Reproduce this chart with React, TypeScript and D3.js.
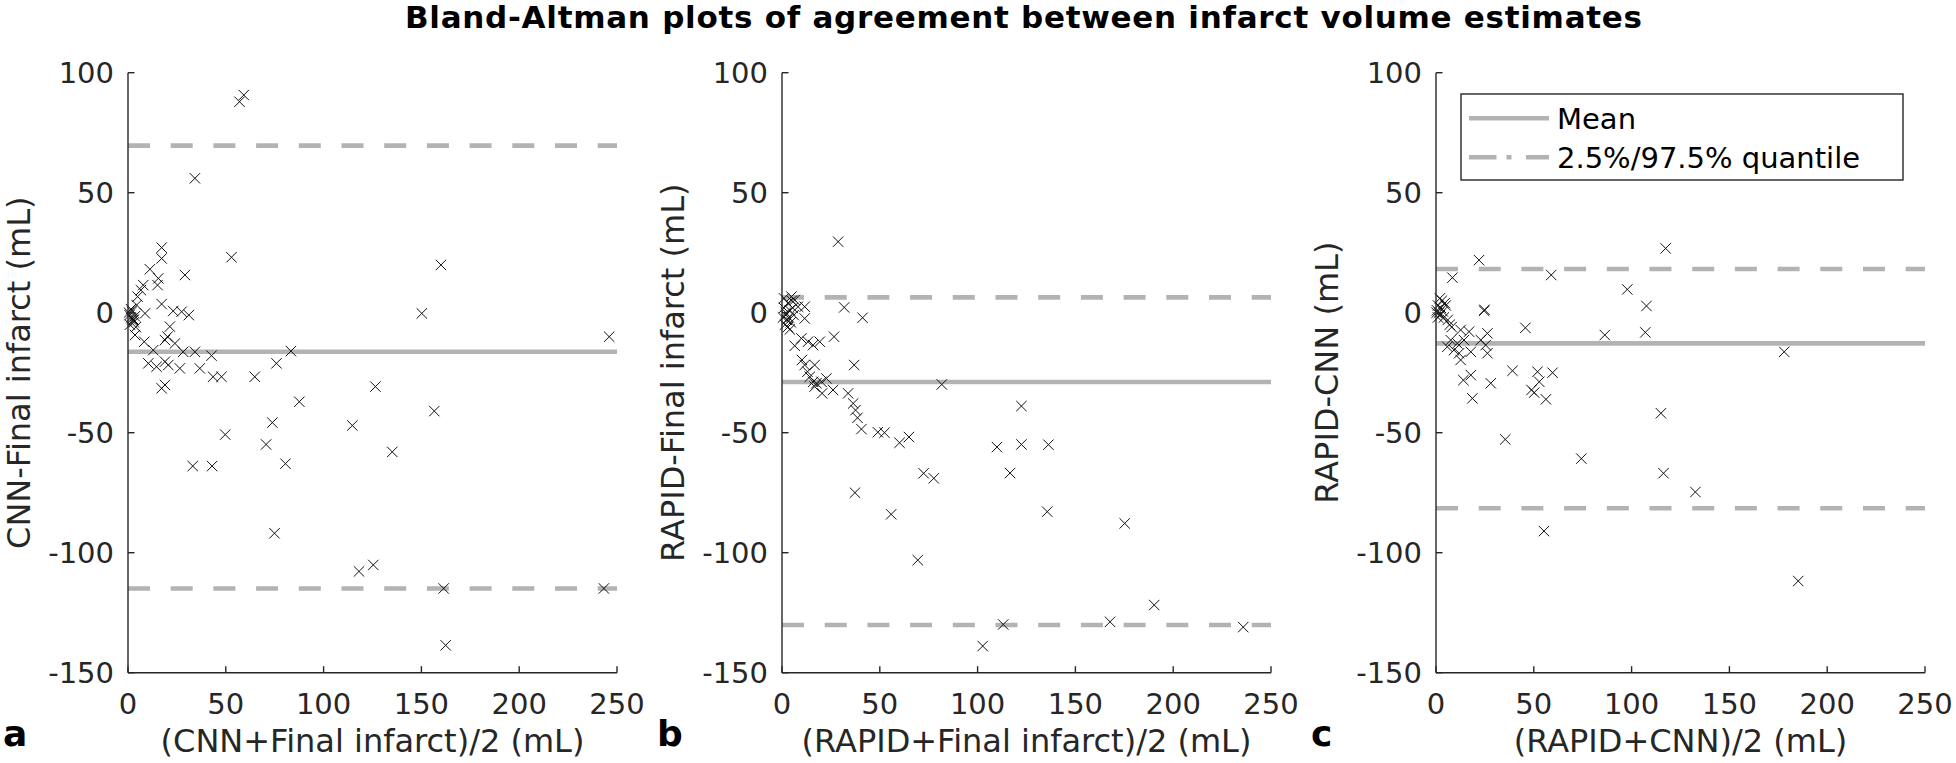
import { scaleLinear } from "d3";

const WIDTH = 1956;
const HEIGHT = 763;
const FONT = "'DejaVu Sans', sans-serif";
const AXIS = "#262626";
const REF = "#b3b3b3";

const xTicks = [0, 50, 100, 150, 200, 250];
const yTicks = [100, 50, 0, -50, -100, -150];

const panelLetters = ["a", "b", "c"];
const xLabels = ["(CNN+Final infarct)/2 (mL)", "(RAPID+Final infarct)/2 (mL)", "(RAPID+CNN)/2 (mL)"];
const yLabels = ["CNN-Final infarct (mL)", "RAPID-Final infarct (mL)", "RAPID-CNN (mL)"];

// mean difference and 2.5% / 97.5% quantiles per panel
const meanDiff = [-16.3, -28.9, -12.8];
const upperQ = [69.6, 6.4, 18.2];
const lowerQ = [-114.9, -130.1, -81.5];

// [mean of the two, difference]
const cnnFinal: [number, number][] = [
  [0.8, -1], [1.5, -2], [2, 0.5], [2.5, -3], [3, -4], [1, -5], [3.5, -1.5], [2, -2.5], [4, -6], [1.5, 1.5], [3, -3], [0.5, 0],
  [59.2, 90.7], [57, 87.9], [34.2, 56], [52.9, 23.1], [160, 19.9], [150.2, -0.3], [246, -10],
  [17.2, 27.1], [17.2, 22.6], [11.2, 18.1], [15.5, 14.3], [15.1, 11.5], [29.1, 15.7], [7.8, 11.5], [6.6, 9.4],
  [4.9, 6.7], [4.4, 3.2], [17.2, 3.6], [23.1, 0.7], [27.4, 0.4], [31.1, -1], [8.7, -0.3], [21.4, -5.8],
  [20.2, -10], [18.9, -11.4], [24, -12.8], [8.3, -12.1], [3.6, -9.3], [12.9, -15.6], [28.2, -16.3], [34.2, -16.3],
  [42.7, -17.9], [10.4, -21.1], [14.6, -22.5], [18.9, -20.4], [20.6, -21.8], [26.5, -23.2], [36.7, -23.2],
  [43.5, -26.7], [47.8, -26.7], [64.8, -26.7], [75.9, -21.1], [83.3, -16], [17.2, -31.5], [18.9, -30.1],
  [126.5, -30.8], [87.6, -37.1], [156.6, -41], [114.7, -47], [73.8, -45.8], [49.7, -50.8], [70.6, -54.9],
  [135.1, -58], [33.1, -63.9], [43, -63.9], [80.5, -62.9], [74.9, -91.9], [118.1, -107.8], [125.4, -105.1],
  [161.4, -114.9], [243.3, -114.9], [162.4, -138.6],
];

const rapidFinal: [number, number][] = [
  [1, 2], [2, -1], [3, 4], [2.5, -3], [4, 1], [1.5, -5], [3.5, -2], [5, 5], [4.5, -4], [2, 0], [6, -1], [3, -6],
  [1, 6], [5.5, 2], [0.5, -2], [4, -7],
  [4.8, 6.7], [6.5, 5.3], [8.2, 2.5], [11.6, 2.5], [31.8, 2.2], [41.2, -2.1], [11.6, -2.4], [9.9, -10.7],
  [6.5, -13.8], [13.3, -12.1], [15.9, -13.5], [19.3, -12.1], [26.6, -10], [10.2, -19.7], [11.6, -21.8],
  [16.7, -21.8], [36.9, -21.8], [13, -24.6], [14.2, -26.7], [15.9, -28.8], [17.6, -29.4], [20.2, -28.8],
  [22.7, -27.4], [16.7, -30.8], [20.5, -33.6], [26.1, -32.2], [33.8, -33.6], [36.4, -37.8], [37.6, -40.6],
  [38.6, -43.8], [40.6, -48.5], [49, -49.8], [52.4, -50], [28.7, 29.6], [81.7, -29.9], [122.4, -38.9],
  [60.1, -54.2], [64.9, -51.8], [109.9, -56], [122.4, -54.9], [136.2, -55], [72.4, -66.9], [77.6, -69],
  [116.6, -66.8], [37.3, -75], [55.8, -84], [135.6, -82.9], [175.2, -87.8], [69.4, -103.1], [190.3, -121.8],
  [167.7, -128.8], [113.1, -129.9], [235.8, -131], [102.6, -138.9],
];

const rapidCnn: [number, number][] = [
  [0.5, 1], [1, 3], [2, -1], [1.5, 0], [3, 5], [2.5, 2], [4, -2], [3.5, 0.5], [5, 3], [6, -3], [1, -2],
  [4.5, 4], [7, -5], [2, 6], [8, -6], [0.3, 0],
  [8.4, 14.6], [22, 21.9], [58.9, 15.7], [117.4, 26.8], [97.8, 9.7], [107.6, 2.8], [24.6, 0.8], [24.8, 1.2],
  [45.7, -6.3], [86.3, -9.3], [107, -8.2], [178, -16.3], [12.6, -7.2], [16.9, -7.9], [26.3, -8.6], [7.5, -11.4],
  [10.9, -12.8], [14.3, -11.4], [22.9, -11.4], [25.4, -13.5], [5.8, -14.2], [9.2, -15.6], [11.8, -16.9],
  [17.8, -16.3], [26.3, -16.9], [12.6, -19.7], [39.1, -24.2], [51.9, -24.6], [59.6, -25], [17.8, -26],
  [14, -28.1], [28, -29.4], [52.8, -28.8], [48.8, -32.2], [50.2, -33.3], [56.2, -36.1], [18.6, -35.7],
  [115, -41.9], [35.4, -52.8], [74.3, -60.8], [116.3, -66.9], [132.6, -74.7], [55.2, -91], [185.2, -111.8],
];

const panelData = [cnnFinal, rapidFinal, rapidCnn];

const PLOT_W = 489;
const TOP = 72.7;
const BOTTOM = 672.7;
const panelLeft = [128, 782, 1436];

function Panel({ i }: { i: number }) {
  const x0 = panelLeft[i];
  const xScale = scaleLinear().domain([0, 250]).range([x0, x0 + PLOT_W]);
  const yScale = scaleLinear().domain([-150, 100]).range([BOTTOM, TOP]);
  const s = 5.2;
  const midY = (TOP + BOTTOM) / 2;

  return (
    <g>
      {/* reference lines */}
      <line x1={xScale(0)} x2={xScale(250)} y1={yScale(meanDiff[i])} y2={yScale(meanDiff[i])}
        stroke={REF} strokeWidth={4.6} />
      <line x1={xScale(0)} x2={xScale(250)} y1={yScale(upperQ[i])} y2={yScale(upperQ[i])}
        stroke={REF} strokeWidth={4.6} strokeDasharray="22 20.7" />
      <line x1={xScale(0)} x2={xScale(250)} y1={yScale(lowerQ[i])} y2={yScale(lowerQ[i])}
        stroke={REF} strokeWidth={4.6} strokeDasharray="22 20.7" />

      {/* points */}
      {panelData[i].map(([mx, d], k) => (
        <path key={k}
          d={`M${xScale(mx) - s},${yScale(d) - s}L${xScale(mx) + s},${yScale(d) + s}M${xScale(mx) - s},${yScale(d) + s}L${xScale(mx) + s},${yScale(d) - s}`}
          stroke="#111" strokeWidth={1} fill="none" />
      ))}

      {/* axes */}
      <line x1={x0} x2={x0} y1={TOP} y2={BOTTOM} stroke={AXIS} strokeWidth={1.4} />
      <line x1={x0} x2={x0 + PLOT_W} y1={BOTTOM} y2={BOTTOM} stroke={AXIS} strokeWidth={1.4} />
      {yTicks.map((t) => (
        <g key={t}>
          <line x1={x0} x2={x0 + 6.5} y1={yScale(t)} y2={yScale(t)} stroke={AXIS} strokeWidth={1.4} />
          <text x={x0 - 14} y={yScale(t)} dy="0.36em" textAnchor="end" fontSize={29} fill={AXIS} fontFamily={FONT}>
            {t}
          </text>
        </g>
      ))}
      {xTicks.map((t) => (
        <g key={t}>
          <line x1={xScale(t)} x2={xScale(t)} y1={BOTTOM} y2={BOTTOM - 6.5} stroke={AXIS} strokeWidth={1.4} />
          <text x={xScale(t)} y={714} textAnchor="middle" fontSize={29} fill={AXIS} fontFamily={FONT}>
            {t}
          </text>
        </g>
      ))}

      {/* labels */}
      <text x={x0 + PLOT_W / 2} y={752} textAnchor="middle" fontSize={32} fill={AXIS} fontFamily={FONT}>
        {xLabels[i]}
      </text>
      <text transform={`translate(${x0 - 98},${midY}) rotate(-90)`} textAnchor="middle" fontSize={32}
        fill={AXIS} fontFamily={FONT}>
        {yLabels[i]}
      </text>
      <text x={x0 - 125} y={746} fontSize={36} fontWeight="bold" fill="#000" fontFamily={FONT}>
        {panelLetters[i]}
      </text>
    </g>
  );
}

function Legend() {
  const lx = 1461, ly = 94, lw = 442, lh = 86;
  return (
    <g>
      <rect x={lx} y={ly} width={lw} height={lh} fill="#fff" stroke={AXIS} strokeWidth={1.4} />
      <line x1={1469} x2={1549} y1={118.3} y2={118.3} stroke={REF} strokeWidth={4.6} />
      <line x1={1469} x2={1549} y1={157.3} y2={157.3} stroke={REF} strokeWidth={4.6}
        strokeDasharray="27.5 10 5 14.5 23" />
      <text x={1557} y={128.5} fontSize={29} fill="#000" fontFamily={FONT}>Mean</text>
      <text x={1557} y={167.5} fontSize={29} fill="#000" fontFamily={FONT}>2.5%/97.5% quantile</text>
    </g>
  );
}

export default function App() {
  return (
    <svg width={WIDTH} height={HEIGHT} style={{ position: "absolute", left: 0, top: 0, background: "#fff" }}>
      <rect width={WIDTH} height={HEIGHT} fill="#fff" />
      <text x={405} y={27.5} fontSize={31} fontWeight="bold" fill="#000" fontFamily={FONT}
        textLength={1237} lengthAdjust="spacing">
        Bland-Altman plots of agreement between infarct volume estimates
      </text>
      {[0, 1, 2].map((i) => (
        <Panel key={i} i={i} />
      ))}
      <Legend />
    </svg>
  );
}
